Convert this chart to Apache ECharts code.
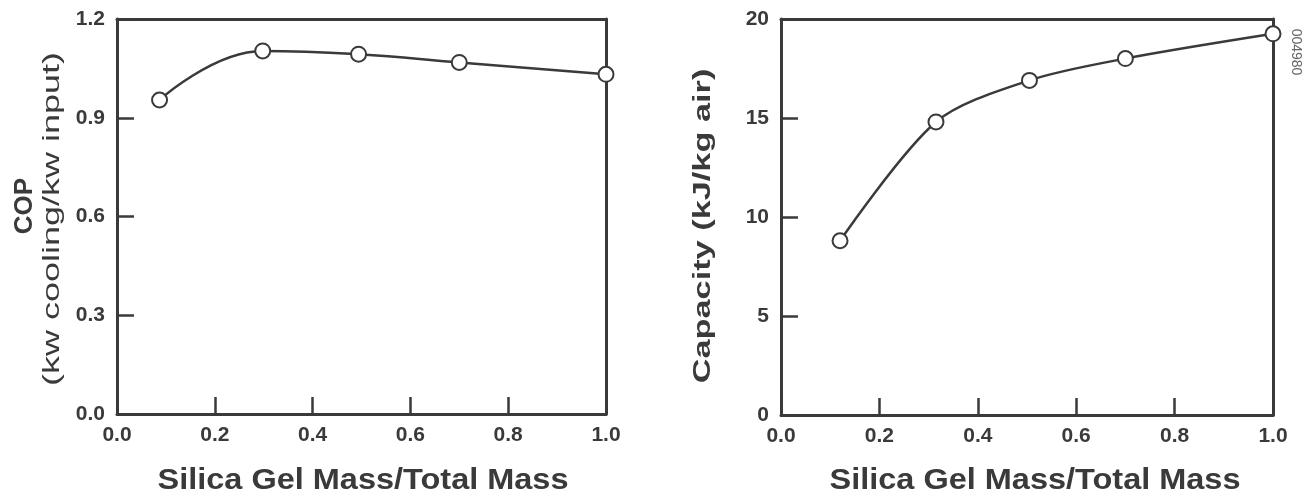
<!DOCTYPE html>
<html>
<head>
<meta charset="utf-8">
<script src="https://cdn.jsdelivr.net/npm/echarts@6/dist/echarts.min.js"></script>
<style>
html,body{margin:0;padding:0;background:#fff;}
#chart{width:1311px;height:497px;}
</style>
</head>
<body>
<div id="chart"></div>
<script>
// ---- data ----
const copMassFraction = [0.087, 0.298, 0.494, 0.70, 1.0];
const copValues = [0.954, 1.103, 1.093, 1.068, 1.032];
const capMassFraction = [0.12, 0.315, 0.505, 0.70, 1.0];
const capValues = [8.8, 14.8, 16.9, 18.0, 19.25];
const xTitle = 'Silica Gel Mass/Total Mass';
const copTitle = 'COP';
const copSubTitle = '(kw cooling/kw input)';
const capTitle = 'Capacity (kJ/kg air)';
const figureId = '004980';

const INK = '#3a3a3a';
const FONT = '"Liberation Sans", Arial, Helvetica, sans-serif';

function pairs(xs, ys) { return xs.map((x, i) => [x, ys[i]]); }

const lineStyleAxis = { color: INK, width: 3 };
const labelStyle = { color: INK, fontFamily: FONT, fontWeight: 'bold', fontSize: 21 };

function mainX(gridIndex) {
  return {
    type: 'value', gridIndex, min: 0, max: 1, interval: 0.2, position: 'bottom',
    axisLine: { show: true, onZero: false, lineStyle: lineStyleAxis },
    axisTick: { show: true, inside: true, length: 17, lineStyle: { color: INK, width: 2.5 } },
    splitLine: { show: false },
    axisLabel: Object.assign({}, labelStyle, { margin: 11, formatter: v => v.toFixed(1) })
  };
}
function mainY(gridIndex, max, interval, fmt) {
  return {
    type: 'value', gridIndex, min: 0, max, interval, position: 'left',
    axisLine: { show: true, onZero: false, lineStyle: lineStyleAxis },
    axisTick: { show: true, inside: true, length: 17, lineStyle: { color: INK, width: 2.5 } },
    splitLine: { show: false },
    axisLabel: Object.assign({}, labelStyle, { margin: 12, formatter: fmt })
  };
}
function frameAxis(gridIndex, position, max) {
  return {
    type: 'value', gridIndex, min: 0, max, position,
    axisLine: { show: true, onZero: false, lineStyle: lineStyleAxis },
    axisTick: { show: false }, axisLabel: { show: false }, splitLine: { show: false }
  };
}

const seriesStyle = {
  type: 'line', symbol: 'circle', symbolSize: 15,
  lineStyle: { color: INK, width: 2.5 },
  itemStyle: { color: '#fff', borderColor: INK, borderWidth: 2 },
  z: 5
};

const option = {
  backgroundColor: '#fff',
  animation: false,
  grid: [
    { left: 117, top: 19, width: 489, height: 395 },
    { left: 781, top: 19, width: 492, height: 396 }
  ],
  xAxis: [mainX(0), mainX(1), frameAxis(0, 'top', 1), frameAxis(1, 'top', 1)],
  yAxis: [
    mainY(0, 1.2, 0.3, v => v.toFixed(1)),
    mainY(1, 20, 5, v => String(v)),
    frameAxis(0, 'right', 1.2),
    frameAxis(1, 'right', 20)
  ],
  series: [
    Object.assign({}, seriesStyle, { xAxisIndex: 0, yAxisIndex: 0, smooth: 0.45, data: pairs(copMassFraction, copValues) }),
    Object.assign({}, seriesStyle, { xAxisIndex: 1, yAxisIndex: 1, smooth: 0.3, data: pairs(capMassFraction, capValues) })
  ],
  graphic: [
    { type: 'text', x: 363, y: 481, scaleX: 1.12,
      style: { text: xTitle, fill: INK, font: 'bold 29px ' + FONT, align: 'center', verticalAlign: 'middle' } },
    { type: 'text', x: 1035, y: 481, scaleX: 1.12,
      style: { text: xTitle, fill: INK, font: 'bold 29px ' + FONT, align: 'center', verticalAlign: 'middle' } },
    { type: 'text', x: 25, y: 206, rotation: Math.PI / 2,
      style: { text: copTitle, fill: INK, font: 'bold 26px ' + FONT, align: 'center', verticalAlign: 'middle' } },
    { type: 'text', x: 52, y: 219, rotation: Math.PI / 2, scaleX: 1.5,
      style: { text: copSubTitle, fill: INK, font: '24px ' + FONT, align: 'center', verticalAlign: 'middle' } },
    { type: 'text', x: 703, y: 226, rotation: Math.PI / 2, scaleX: 1.43,
      style: { text: capTitle, fill: INK, font: 'bold 24px ' + FONT, align: 'center', verticalAlign: 'middle' } },
    { type: 'text', x: 1296, y: 52, rotation: -Math.PI / 2,
      style: { text: figureId, fill: '#666', font: '14px ' + FONT, align: 'center', verticalAlign: 'middle' } }
  ]
};

const chart = echarts.init(document.getElementById('chart'), null, { renderer: 'canvas' });
chart.setOption(option);
</script>
</body>
</html>
